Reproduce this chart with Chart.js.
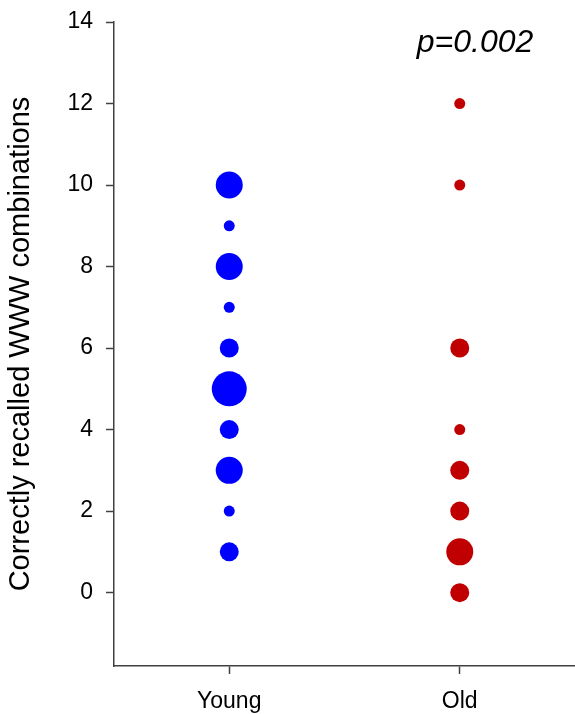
<!DOCTYPE html>
<html>
<head>
<meta charset="utf-8">
<script src="https://cdn.jsdelivr.net/npm/chart.js@4/dist/chart.umd.min.js"></script>
<style>
  body { margin: 0; background: #fff; }
  #wrap { width: 575px; height: 714px; }
</style>
</head>
<body>
<div id="wrap"><canvas id="chart" width="575" height="714"></canvas></div>
<script>
// groups on the x axis
const groups = ['Young', 'Old'];

// recalled combinations and how many subjects had each score
const youngScores = [10, 9, 8, 7, 6, 5, 4, 3, 2, 1];
const youngCounts = [3, 1, 3, 1, 2, 4, 2, 3, 1, 2];
const oldScores = [12, 10, 6, 4, 3, 2, 1, 0];
const oldCounts = [1, 1, 2, 1, 2, 2, 3, 2];

const yTicks = [0, 2, 4, 6, 8, 10, 12, 14];
const pLabel = 'p=0.002';

const FONT = '"Liberation Sans", Arial, sans-serif';
const AXIS = '#404040';

function toPoints(groupIndex, scores, counts) {
    return scores.map((s, i) => ({ x: groupIndex + 1, y: s, r: 1.5 + 4 * counts[i] }));
}

const pText = {
    id: 'pText',
    afterDraw(chart) {
        const c = chart.ctx;
        const area = chart.chartArea;
        c.save();
        c.font = 'italic 32px ' + FONT;
        c.fillStyle = '#000';
        c.textAlign = 'center';
        c.textBaseline = 'middle';
        c.fillText(pLabel, area.left + 361, area.top + 21);
        c.restore();
    }
};

new Chart(document.getElementById('chart'), {
    type: 'bubble',
    data: {
        datasets: [
            {
                label: groups[0],
                data: toPoints(0, youngScores, youngCounts),
                backgroundColor: '#0000ff',
                borderColor: '#0000ff',
                borderWidth: 0
            },
            {
                label: groups[1],
                data: toPoints(1, oldScores, oldCounts),
                backgroundColor: '#c00000',
                borderColor: '#c00000',
                borderWidth: 0
            }
        ]
    },
    options: {
        responsive: false,
        animation: false,
        layout: { autoPadding: false, padding: { top: 22, right: 0, left: 0, bottom: 0 } },
        plugins: {
            legend: { display: false },
            tooltip: { enabled: false }
        },
        scales: {
            x: {
                type: 'linear',
                min: 0.5,
                max: 2.5,
                afterBuildTicks: (scale) => { scale.ticks = [{ value: 1 }, { value: 2 }]; },
                afterFit: (scale) => {
                    scale.height = 48;
                    scale.paddingLeft = 0;
                    scale.paddingRight = 0;
                },
                ticks: {
                    callback: (v) => groups[v - 1],
                    color: '#000',
                    font: { family: FONT, size: 23 },
                    padding: 14,
                    maxRotation: 0
                },
                grid: {
                    drawOnChartArea: false,
                    drawTicks: true,
                    tickLength: 8,
                    tickColor: AXIS,
                    tickWidth: 1.5
                },
                border: { display: true, color: AXIS, width: 1.5 }
            },
            y: {
                min: -1.8,
                max: 14,
                afterBuildTicks: (scale) => { scale.ticks = yTicks.map(v => ({ value: v })); },
                afterFit: (scale) => {
                    scale.width = 114;
                    scale.paddingTop = 0;
                    scale.paddingBottom = 0;
                },
                ticks: {
                    color: '#000',
                    font: { family: FONT, size: 23 },
                    padding: 13
                },
                grid: {
                    drawOnChartArea: false,
                    drawTicks: true,
                    tickLength: 8,
                    tickColor: AXIS,
                    tickWidth: 1.5
                },
                border: { display: true, color: AXIS, width: 1.5 },
                title: {
                    display: true,
                    text: 'Correctly recalled WWW combinations',
                    color: '#000',
                    font: { family: FONT, size: 29 },
                    padding: { top: 4, bottom: 0 }
                }
            }
        }
    },
    plugins: [pText]
});
</script>
</body>
</html>
